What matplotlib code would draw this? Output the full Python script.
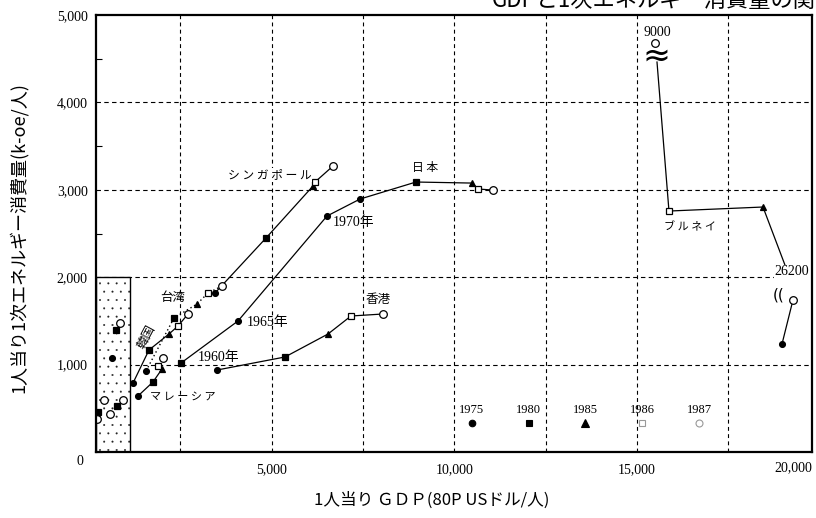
import matplotlib
matplotlib.use('Agg')
import matplotlib.pyplot as plt
from matplotlib.patches import Rectangle
from matplotlib.ticker import MultipleLocator, FixedLocator, FuncFormatter

SERIF = ['Liberation Serif', 'Noto Sans CJK JP', 'DejaVu Sans']
JP = ['Noto Sans CJK JP', 'DejaVu Sans']
plt.rcParams['font.family'] = SERIF
plt.rcParams['hatch.linewidth'] = 0.2

# ---------------- data (GDP per capita, energy per capita) ----------------
legend_years = ['1975', '1980', '1985', '1986', '1987']

japan_years = ['1960', '1965', '1970', '1975', '1980', '1985', '1986', '1987']
japan_gdp = [2519, 4080, 6517, 7420, 8953, 10487, 10651, 11062]
japan_energy = [1018, 1499, 2700, 2894, 3089, 3077, 3009, 2997]

singapore_years = ['1975', '1980', '1985', '1986', '1987']
singapore_gdp = [3450, 4846, 6133, 6188, 6681]
singapore_energy = [1819, 2448, 3043, 3089, 3272]

taiwan_years = ['1975', '1980', '1985', '1986', '1987']
taiwan_gdp = [1561, 2327, 2957, 3258, 3642]
taiwan_energy = [927, 1533, 1693, 1819, 1899]

korea_years = ['1975', '1980', '1985', '1986', '1987']
korea_gdp = [1205, 1643, 2190, 2437, 2711]
korea_energy = [789, 1167, 1350, 1441, 1579]

malaysia_years = ['1975', '1980', '1985', '1986', '1987']
malaysia_gdp = [1342, 1752, 1999, 1889, 2026]
malaysia_energy = [641, 801, 950, 984, 1075]

hongkong_years = ['1975', '1980', '1985', '1986', '1987']
hongkong_gdp = [3505, 5366, 6544, 7173, 8050]
hongkong_energy = [938, 1087, 1350, 1556, 1579]

# Brunei (two values are off-scale: GDP 26200 and energy 9000, drawn at the break marks)
brunei_marks = ['1975', '1987', '1985', '1986', '1987']
brunei_gdp = [18975, 19275, 18454, 15880, 15497]
brunei_energy = [1236, 1739, 2803, 2757, 4679]
brunei_line_gdp = [19056, 18454, 15880, 15552]
brunei_line_energy = [2139, 2803, 2757, 4462]

# low income countries inside the dotted box
low_marks = ['1987', '1980', '1975', '1987', '1987', '1980', '1987', '1980', '1987']
low_gdp = [849, 739, 630, 411, 931, 767, 575, 246, 219]
low_energy = [1476, 1396, 1075, 595, 595, 526, 435, 458, 378]

box_gdp_max = 1123
box_energy_max = 2000

y_ticks = [1000, 2000, 3000, 4000, 5000]
x_ticks = [5000, 10000, 15000]

# ---------------- styles ----------------
STYLE = {
    '1960': dict(marker='s', mfc='black', ms=4.2),
    '1965': dict(marker='o', mfc='black', ms=4.2),
    '1970': dict(marker='o', mfc='black', ms=4.2),
    '1975': dict(marker='o', mfc='black', ms=4.2),
    '1980': dict(marker='s', mfc='black', ms=4.5),
    '1985': dict(marker='^', mfc='black', ms=5.0),
    '1986': dict(marker='s', mfc='white', ms=4.5),
    '1987': dict(marker='o', mfc='white', ms=5.5),
}


def draw_marks(ax, xs, ys, keys, z=5):
    for x, y, k in zip(xs, ys, keys):
        st = STYLE[k]
        ax.plot([x], [y], linestyle='none', marker=st['marker'], mfc=st['mfc'],
                mec='black', mew=0.9, ms=st['ms'], zorder=z)


fig = plt.figure(figsize=(8.16, 5.18), dpi=100)
ax = fig.add_axes([96 / 816, 66 / 518, 716 / 816, 437 / 518])
ax.set_xlim(192, 19796)
ax.set_ylim(0, 5000)

# grid
for gx in range(2500, 19000, 2500):
    ax.axvline(gx, color='black', lw=0.8, ls=(0, (3.5, 3)), zorder=1)
for gy in y_ticks[:-1]:
    ax.axhline(gy, color='black', lw=0.8, ls=(0, (4, 3)), zorder=1)

# dotted box
ax.add_patch(Rectangle((192, 0), box_gdp_max - 192, box_energy_max, facecolor='white',
                       edgecolor='#222222', hatch='..', lw=0, zorder=2))
ax.add_patch(Rectangle((192, 0), box_gdp_max - 192, box_energy_max, facecolor='none',
                       edgecolor='black', lw=1.0, zorder=3))

LW = 0.9
# lines
ax.plot(japan_gdp, japan_energy, color='black', lw=LW, zorder=4)
ax.plot(singapore_gdp, singapore_energy, color='black', lw=LW, zorder=4)
ax.plot(taiwan_gdp, taiwan_energy, color='black', lw=1.0, ls=(0, (1, 2)), zorder=4)
ax.plot(korea_gdp, korea_energy, color='black', lw=LW, zorder=4)
ax.plot(malaysia_gdp[:4], malaysia_energy[:4], color='black', lw=LW, zorder=4)
ax.plot(hongkong_gdp, hongkong_energy, color='black', lw=LW, zorder=4)
ax.plot(brunei_gdp[:2], brunei_energy[:2], color='black', lw=LW, zorder=4)
ax.plot(brunei_line_gdp, brunei_line_energy, color='black', lw=LW, zorder=4)

draw_marks(ax, japan_gdp, japan_energy, japan_years)
draw_marks(ax, singapore_gdp, singapore_energy, singapore_years)
draw_marks(ax, taiwan_gdp, taiwan_energy, taiwan_years)
draw_marks(ax, korea_gdp, korea_energy, korea_years)
draw_marks(ax, malaysia_gdp, malaysia_energy, malaysia_years)
draw_marks(ax, hongkong_gdp, hongkong_energy, hongkong_years)
draw_marks(ax, brunei_gdp, brunei_energy, brunei_marks)
draw_marks(ax, low_gdp, low_energy, low_marks)

# break marks
ax.text(15525, 4530, '≈', fontsize=24, family=['DejaVu Sans'], ha='center', va='center',
        zorder=6)
ax.text(18880, 1800, '((', fontsize=11, family=['DejaVu Sans'], ha='center', va='center',
        zorder=6)
ax.text(15560, 4800, '9000', fontsize=10, ha='center', va='center', zorder=6)
ax.text(19250, 2060, '26200', fontsize=10, ha='center', va='center', zorder=6,
        bbox=dict(facecolor='white', edgecolor='none', pad=0.5))

# text labels
ax.text(3806, 3170, 'シ ン ガ ポ ー ル', fontsize=8.5, family=JP, ha='left', va='center', zorder=6,
        bbox=dict(facecolor='white', edgecolor='none', pad=0.3))
ax.text(9200, 3260, '日 本', fontsize=8.5, family=JP, ha='center', va='center', zorder=6)
ax.text(6680, 2630, '1970年', fontsize=10, ha='left', va='center', zorder=6)
ax.text(4330, 1480, '1965年', fontsize=10, ha='left', va='center', zorder=6)
ax.text(2980, 1080, '1960年', fontsize=10, ha='left', va='center', zorder=6)
ax.text(7920, 1740, '香港', fontsize=9, family=JP, ha='center', va='center', zorder=6)
ax.text(2300, 1765, '台湾', fontsize=9, family=JP, ha='center', va='center', zorder=6)
ax.text(1560, 1320, '韓国', fontsize=9, family=JP, ha='center', va='center',
        rotation=62, zorder=6)
ax.text(1670, 630, 'マ レ ー シ ア', fontsize=8, family=JP, ha='left', va='center', zorder=6)
ax.text(16450, 2570, 'ブ ル ネ イ', fontsize=8, family=JP, ha='center', va='center', zorder=6)

# legend (years with markers)
for i, yr in enumerate(legend_years):
    fx = 0.525 + i * 0.0793
    st = STYLE[yr]
    light = yr in ('1986', '1987')
    ax.plot([fx], [0.066], transform=ax.transAxes, linestyle='none', marker=st['marker'],
            mfc=st['mfc'], mec='#999999' if light else 'black', mew=0.8,
            ms=st['ms'] + (0.5 if not light else -0.5), zorder=6, clip_on=False)
    ax.text(fx, 0.097, yr, transform=ax.transAxes, fontsize=9, ha='center', va='center', zorder=6)

# axes styling
for s in ax.spines.values():
    s.set_linewidth(1.6)
    s.set_zorder(7)
ax.yaxis.set_major_locator(FixedLocator(y_ticks))
ax.yaxis.set_major_formatter(FuncFormatter(lambda v, p: f'{int(v):,}'))
ax.yaxis.set_minor_locator(MultipleLocator(500))
ax.tick_params(axis='y', which='major', length=0, pad=6, labelsize=10)
ax.tick_params(axis='y', which='minor', direction='in', length=4, width=0.8)
ax.xaxis.set_major_locator(FixedLocator(x_ticks))
ax.xaxis.set_major_formatter(FuncFormatter(lambda v, p: f'{int(v):,}'))
ax.tick_params(axis='x', which='major', length=0, pad=8, labelsize=10)
ax.text(1.0, -0.037, '20,000', transform=ax.transAxes, fontsize=10, ha='right', va='center')
ax.text(-0.022, -0.022, '0', transform=ax.transAxes, fontsize=10, ha='center', va='center')

fig.text(18 / 816, 1 - 238 / 518, '1人当り1次エネルギー消費量(k-oe/人)', rotation=90,
         fontsize=13, family=JP, ha='center', va='center')
fig.text(432 / 816, 1 - 500 / 518, '1人当り ＧＤＰ(80P USドル/人)', fontsize=12, family=JP,
         ha='center', va='center')
fig.text(838 / 816, 1.0, 'GDPと1次エネルギー消費量の関係', fontsize=16, family=JP,
         ha='right', va='center')

fig.savefig('out.png', dpi=100)
